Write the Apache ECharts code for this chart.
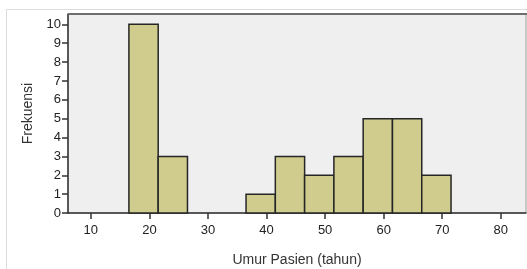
<!DOCTYPE html>
<html>
<head>
<meta charset="utf-8">
<script src="https://cdn.jsdelivr.net/npm/echarts@6/dist/echarts.min.js"></script>
<style>
  html, body { margin: 0; padding: 0; background: #fff; }
  #chart { width: 527px; height: 269px; }
</style>
</head>
<body>
<div id="chart"></div>
<script>
// histogram bins (start of each bin, width 5 years)
const binStart = [16.5, 21.5, 36.5, 41.5, 46.5, 51.5, 56.5, 61.5, 66.5];
const binWidth = 5;
const freq = [10, 3, 1, 3, 2, 3, 5, 5, 2];
const xTicks = [10, 20, 30, 40, 50, 60, 70, 80];
const yTicks = [0, 1, 2, 3, 4, 5, 6, 7, 8, 9, 10];

const data = binStart.map((s, i) => [s, s + binWidth, freq[i]]);

const myChart = echarts.init(document.getElementById("chart"));
myChart.setOption({
  animation: false,
  textStyle: { fontFamily: "Liberation Sans, Arial, sans-serif" },
  graphic: [
    {
      type: "rect",
      shape: { x: 6.5, y: 9.5, width: 530, height: 270 },
      style: { fill: "none", stroke: "#dcdcdc", lineWidth: 1 },
      silent: true,
    },
    {
      type: "line",
      shape: { x1: 68, y1: 14, x2: 527, y2: 14 },
      style: { stroke: "#6e6e6e", lineWidth: 2 },
      silent: true,
      z: 10,
    },
  ],
  grid: {
    left: 68, right: 1, top: 14, bottom: 56,
    outerBoundsMode: "none",
    containLabel: false,
    backgroundColor: "#efefef", show: true, borderColor: "#9a9a9a", borderWidth: 1,
  },
  xAxis: {
    type: "value",
    min: 6.1,
    max: 84.3,
    name: "Umur Pasien (tahun)",
    nameLocation: "middle",
    nameGap: 40,
    nameTextStyle: { fontSize: 14, color: "#333" },
    axisLine: { show: true, onZero: false, lineStyle: { color: "#333", width: 1.5 } },
    axisTick: { show: true, length: 6, customValues: xTicks, lineStyle: { color: "#333", width: 1.5 } },
    axisLabel: { customValues: xTicks, color: "#222", fontSize: 13, margin: 11 },
    splitLine: { show: false },
  },
  yAxis: {
    type: "value",
    min: 0,
    max: 10.55,
    name: "Frekuensi",
    nameLocation: "middle",
    nameGap: 32,
    nameRotate: 90,
    nameTextStyle: { fontSize: 14, color: "#333" },
    axisLine: { show: true, lineStyle: { color: "#333", width: 1.5 } },
    axisTick: { show: true, length: 6, customValues: yTicks, lineStyle: { color: "#333", width: 1.5 } },
    axisLabel: { customValues: yTicks, color: "#222", fontSize: 13, margin: 7 },
    splitLine: { show: false },
  },
  series: [
    {
      type: "custom",
      data: data,
      renderItem: function (params, api) {
        const p0 = api.coord([api.value(0), 0]);
        const p1 = api.coord([api.value(1), api.value(2)]);
        return {
          type: "rect",
          shape: { x: p0[0], y: p1[1], width: p1[0] - p0[0], height: p0[1] - p1[1] },
          style: { fill: "#cfcc8e", stroke: "#262626", lineWidth: 1.5 },
        };
      },
    },
  ],
});
window.onresize = function () {
  myChart.resize();
};
</script>
</body>
</html>
